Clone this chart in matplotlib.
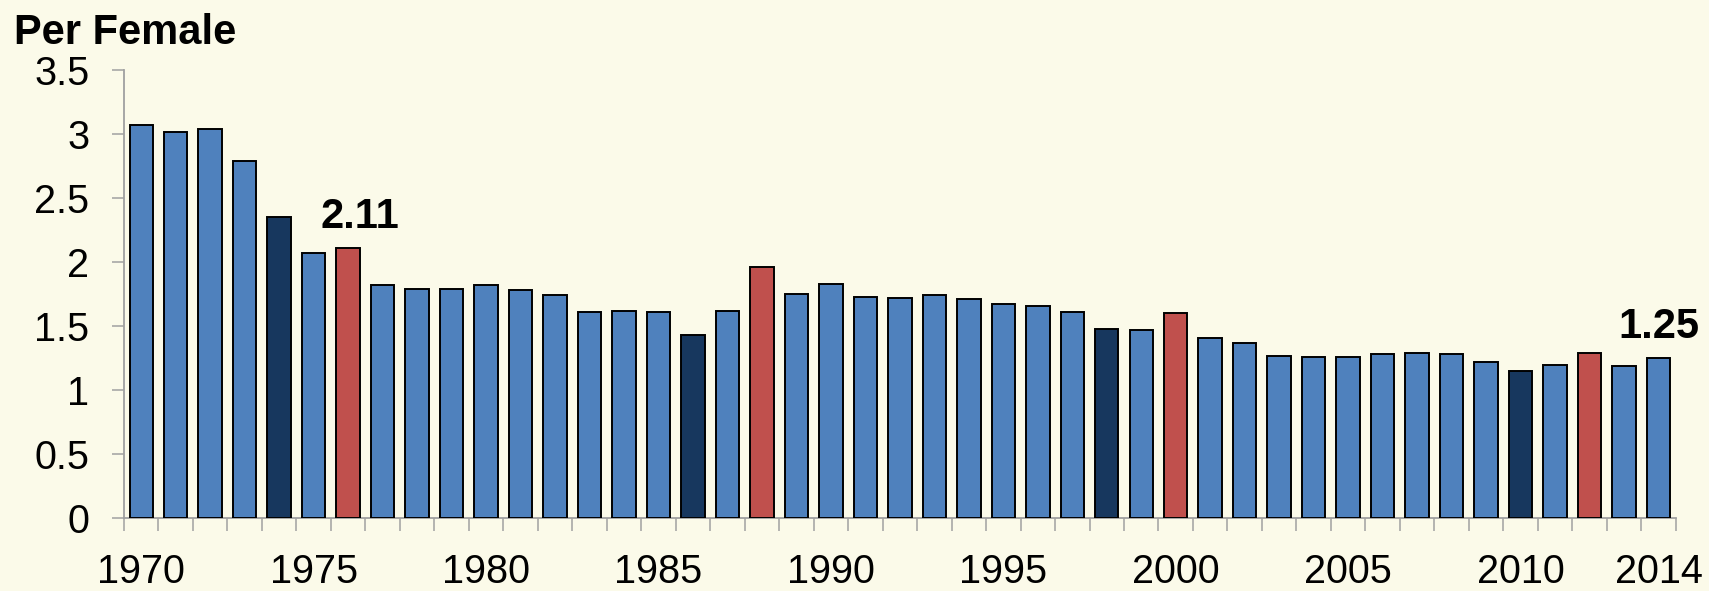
import matplotlib.pyplot as plt

# total fertility rate, per female
years = list(range(1970, 2015))
tfr = [3.07, 3.02, 3.04, 2.79, 2.35, 2.07, 2.11, 1.82, 1.79, 1.79,
       1.82, 1.78, 1.74, 1.61, 1.62, 1.61, 1.43, 1.62, 1.96, 1.75,
       1.83, 1.73, 1.72, 1.74, 1.71, 1.67, 1.66, 1.61, 1.48, 1.47,
       1.60, 1.41, 1.37, 1.27, 1.26, 1.26, 1.28, 1.29, 1.28, 1.22,
       1.15, 1.20, 1.29, 1.19, 1.25]
tiger_years = [1974, 1986, 1998, 2010]
dragon_years = [1976, 1988, 2000, 2012]
tick_years = [1970, 1975, 1980, 1985, 1990, 1995, 2000, 2005, 2010, 2014]
yticks = [0, 0.5, 1, 1.5, 2, 2.5, 3, 3.5]

plt.rcParams['font.family'] = ['Liberation Sans', 'DejaVu Sans']

bg = '#FBFAE9'
W, H = 1709, 591
fig = plt.figure(figsize=(W/100, H/100), dpi=100, facecolor=bg)
ax = fig.add_axes([124/W, 1-518/H, (1675.7-124)/W, (518-70.3)/H])
ax.set_facecolor(bg)

colors = []
for y in years:
    if y in tiger_years:
        colors.append('#17375E')
    elif y in dragon_years:
        colors.append('#C0504D')
    else:
        colors.append('#4F81BD')

pos = list(range(len(years)))
ax.bar(pos, tfr, width=0.68, color=colors, edgecolor='black', linewidth=1.4, zorder=3)

ax.set_xlim(-0.5, len(years) - 0.5)
ax.set_ylim(0, 3.5)
ax.set_yticks(yticks)
ax.set_yticklabels(['0', '0.5', '1', '1.5', '2', '2.5', '3', '3.5'])

# ticks on the category boundaries, labels at the centres
ax.set_xticks([p - 0.5 for p in pos] + [len(years) - 0.5])
ax.set_xticklabels([])
ax.set_xticks([years.index(y) for y in tick_years], minor=True)
ax.set_xticklabels([str(y) for y in tick_years], minor=True)
ax.tick_params(axis='x', which='major', length=9, width=1.1, color='#A0A0A0')
ax.tick_params(axis='x', which='minor', length=0, pad=25, labelsize=28.5)
ax.tick_params(axis='y', length=9, width=1.1, color='#A0A0A0', pad=16, labelsize=28.5)

for s in ['top', 'right']:
    ax.spines[s].set_visible(False)
for s in ['left', 'bottom']:
    ax.spines[s].set_color('#A0A0A0')
    ax.spines[s].set_linewidth(1.3)

i76 = years.index(1976)
ax.annotate('2.11', (i76 + 0.33, tfr[i76]), xytext=(0, 14.5), textcoords='offset points',
            ha='center', va='baseline', fontsize=30, fontweight='bold')
i14 = years.index(2014)
ax.annotate('1.25', (i14, tfr[i14]), xytext=(0, 14.5), textcoords='offset points',
            ha='center', va='baseline', fontsize=30, fontweight='bold')

fig.text(14/W, 1-44/H, 'Per Female', ha='left', va='baseline',
         fontsize=30, fontweight='bold')

fig.savefig('out.png', dpi=100, facecolor=bg)
